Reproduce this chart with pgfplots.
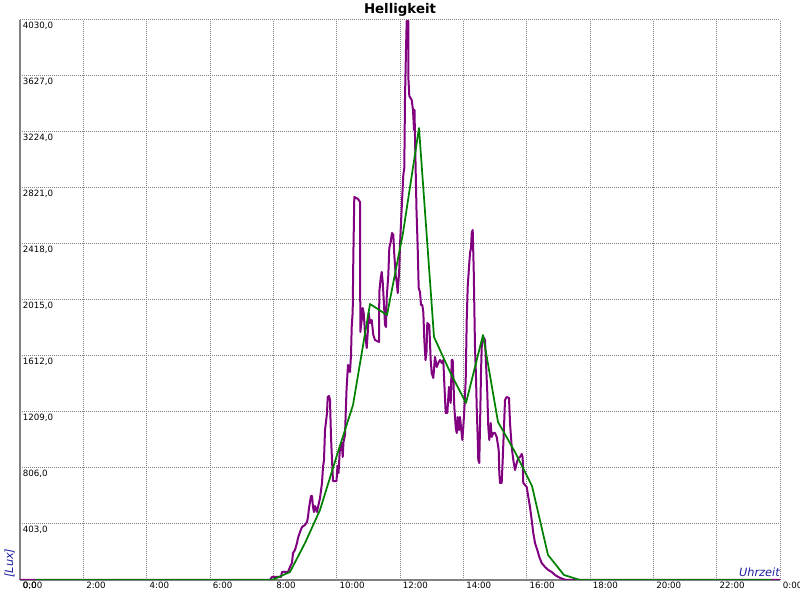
\documentclass[border=0pt]{standalone}
\usepackage{fontspec}
\setmainfont{DejaVu Sans}[ItalicFont={DejaVu Sans Oblique}, BoldFont={DejaVu Sans Bold}]
\usepackage{pgfplots}
\pgfplotsset{compat=1.18}
\definecolor{lux}{RGB}{128,0,128}
\definecolor{avg}{RGB}{0,128,0}
\definecolor{lbl}{RGB}{30,30,160}
\begin{document}
\begin{tikzpicture}
\useasboundingbox (-15pt,-15pt) rectangle (585pt,435pt);
\begin{axis}[
  at={(0,0)}, anchor=south west,
  scale only axis, width=570pt, height=420pt,
  xmin=0, xmax=24, ymin=0, ymax=4030,
  xtick={0,2,4,6,8,10,12,14,16,18,20,22,24},
  xticklabels={0:00,2:00,4:00,6:00,8:00,10:00,12:00,14:00,16:00,18:00,20:00,22:00,0:00},
  ytick={0,403,806,1209,1612,2015,2418,2821,3224,3627,4030},
  scaled y ticks=false,
  /pgf/number format/.cd, fixed, fixed zerofill, precision=1, use comma, 1000 sep={}, assume math mode=true,
  /pgfplots/.cd,
  grid=major,
  major grid style={draw=gray, line width=0.75pt, dash pattern=on 0.75pt off 0.75pt},
  major tick length=0pt,
  axis x line=bottom, axis y line=left,
  axis line style={-, draw=gray, line width=1.5pt},
  tick label style={font=\fontsize{6.5}{7}\selectfont, inner sep=1pt},
  yticklabel style={anchor=north west, xshift=1pt},
  xticklabel style={anchor=north west, xshift=1pt},
  xlabel={Uhrzeit},
  xlabel style={at={(1,0)}, anchor=base east, yshift=2.25pt, font=\itshape\fontsize{8.5}{10}\selectfont, text=lbl, inner sep=0pt},
  ylabel={[Lux]},
  ylabel style={at={(-0.0066,0.0036)}, anchor=south west, font=\itshape\fontsize{8.5}{10}\selectfont, text=lbl, inner sep=0pt},
  no markers,
]
\addplot[lux, line width=1.5pt, line join=round] coordinates {
(0,0) (7.895,0) (7.958,21.6) (8.242,21.6) (8.274,57.6) (8.463,57.6) (8.526,93.6) (8.589,122.3)
(8.621,194.3) (8.684,215.9) (8.747,266.3) (8.779,302.2) (8.842,345.4) (8.905,381.4) (9.000,395.8)
(9.063,417.4) (9.095,453.4) (9.126,518.1) (9.189,604.5) (9.221,604.5) (9.253,525.3) (9.284,489.4)
(9.316,532.5) (9.379,489.4) (9.411,525.3) (9.474,590.1) (9.537,698.1) (9.568,813.2) (9.600,863.6)
(9.632,1079.5) (9.695,1201.8) (9.717,1316.9) (9.758,1324.1) (9.789,1295.4) (9.821,1029.1)
(9.853,863.6) (9.884,712.4) (9.995,712.4) (10.026,820.4) (10.058,770.0) (10.105,957.1)
(10.159,985.9) (10.191,885.2) (10.216,993.1) (10.263,1043.5) (10.311,1367.3) (10.358,1547.2)
(10.421,1496.9) (10.453,1619.2) (10.475,1820.7) (10.506,1928.6) (10.525,2302.9) (10.557,2756.2)
(10.674,2741.8) (10.737,2720.3) (10.747,1784.7) (10.791,1871.1) (10.823,1957.4) (10.854,1921.5)
(10.895,1777.5) (10.949,1669.6) (10.981,1777.5) (11.012,1921.5) (11.053,1849.5) (11.107,1871.1)
(11.157,1763.1) (11.211,1727.1) (11.337,1712.7) (11.347,2072.6) (11.391,2173.3) (11.423,2216.5)
(11.454,2144.5) (11.495,1979.0) (11.526,1835.1) (11.558,1820.7) (11.580,2029.4) (11.631,2194.9)
(11.662,2389.2) (11.707,2432.4) (11.747,2497.2) (11.789,2482.8) (11.820,2338.8) (11.864,2194.9)
(11.896,2144.5) (11.928,2065.4) (11.959,2173.3) (11.978,2245.3) (12.000,2410.8) (12.054,2677.1)
(12.104,2914.6) (12.136,2964.9) (12.158,3468.7) (12.189,3814.1) (12.212,4022.8) (12.262,4022.8)
(12.268,3598.2) (12.294,3483.1) (12.369,3454.3) (12.411,3382.3) (12.442,3238.4) (12.458,3382.3)
(12.474,3180.8) (12.521,2662.7) (12.559,2389.2) (12.590,2101.4) (12.632,2072.6) (12.663,1979.0)
(12.704,1979.0) (12.736,1928.6) (12.768,1727.1) (12.805,1583.2) (12.837,1640.8) (12.862,1849.5)
(12.925,1835.1) (12.969,1583.2) (13.001,1489.7) (13.052,1453.7) (13.105,1604.8) (13.159,1532.8)
(13.209,1561.6) (13.263,1583.2) (13.317,1561.6) (13.367,1583.2) (13.399,1417.7) (13.443,1201.8)
(13.494,1201.8) (13.547,1388.9) (13.601,1273.8) (13.632,1583.2) (13.664,1583.2) (13.683,1460.9)
(13.715,1245.0) (13.759,1101.1) (13.791,1057.9) (13.822,1173.0) (13.863,1079.5) (13.895,1173.0)
(13.936,1079.5) (13.968,1007.5) (13.999,1101.1) (14.031,1223.4) (14.075,1439.3) (14.107,1871.1)
(14.138,2108.6) (14.179,2252.5) (14.211,2353.2) (14.242,2389.2) (14.265,2497.2) (14.296,2518.8)
(14.328,2230.9) (14.368,1676.8) (14.400,1460.9) (14.422,1245.0) (14.453,1029.1) (14.472,863.6)
(14.503,842.0) (14.535,1201.8) (14.558,1489.7) (14.580,1676.8) (14.631,1748.7) (14.684,1727.1)
(14.716,1561.6) (14.757,1345.7) (14.788,1101.1) (14.820,1007.5) (14.864,1129.8) (14.896,1029.1)
(14.947,1057.9) (15.000,1057.9) (15.054,1029.1) (15.117,935.5) (15.136,770.0) (15.158,698.1)
(15.211,698.1) (15.243,863.6) (15.284,1101.1) (15.316,1295.4) (15.369,1316.9) (15.442,1309.7)
(15.474,1129.8) (15.528,957.1) (15.578,863.6) (15.632,791.6) (15.685,842.0) (15.736,878.0)
(15.789,885.2) (15.843,906.8) (15.874,885.2) (15.893,698.1) (16.001,669.3) (16.052,597.3)
(16.105,525.3) (16.159,431.8) (16.209,338.2) (16.263,266.3) (16.336,215.9) (16.399,165.5)
(16.474,122.3) (16.579,93.6) (16.683,72.0) (16.791,57.6) (16.895,36.0) (16.999,21.6)
(17.138,7.2) (17.264,0) (24,0)
};
\addplot[avg, line width=1.3pt, line join=round] coordinates {
(0.5,0) (7.958,0) (8.526,57.6) (9.000,266) (9.474,503.8) (10.011,899.6) (10.516,1259.4)
(11.053,1986.2) (11.589,1907.0) (12.095,2497.2) (12.600,3252.8) (13.074,1748.7) (13.579,1496.9)
(14.084,1273.8) (14.621,1763.1) (15.095,1137.0) (15.632,921.1) (16.168,676.5) (16.674,179.9)
(17.179,36.0) (17.684,0) (23.716,0)
};
\end{axis}
\node[anchor=base, font=\bfseries\fontsize{10}{12}\selectfont, inner sep=0pt] at (285pt,424.5pt) {Helligkeit};
\end{tikzpicture}
\end{document}
